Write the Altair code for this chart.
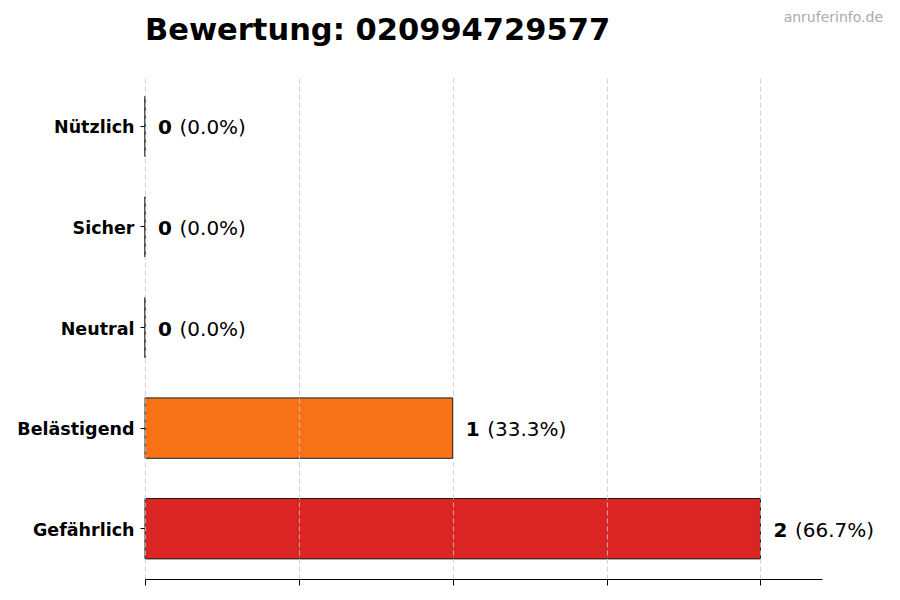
import altair as alt
import pandas as pd

categories = ["Nützlich", "Sicher", "Neutral", "Belästigend", "Gefährlich"]
counts = [0, 0, 0, 1, 2]
percents = ["(0.0%)", "(0.0%)", "(0.0%)", "(33.3%)", "(66.7%)"]
colors = ["#22c55e", "#3b82f6", "#6b7280", "#f97316", "#dc2626"]
x_ticks = [0, 0.5, 1, 1.5, 2]
x_domain = [0, 2.2]
title_text = "Bewertung: 020994729577"
watermark = "anruferinfo.de"

df = pd.DataFrame({"cat": categories, "count": counts, "pct": percents, "color": colors})

FONT = "DejaVu Sans"

y_enc = alt.Y(
    "cat:N",
    sort=categories,
    scale=alt.Scale(paddingInner=0.4, paddingOuter=0.2),
    axis=alt.Axis(
        title=None, domain=False, grid=False,
        labelFont=FONT, labelFontWeight="bold", labelFontSize=17.5,
        labelColor="black", tickColor="black", tickSize=5, labelPadding=6,
        labelOffset=2,
    ),
)
x_enc = alt.X(
    "count:Q",
    scale=alt.Scale(domain=x_domain, nice=False, zero=True),
    axis=alt.Axis(
        title=None, values=x_ticks, labels=False, grid=True,
        gridDash=[5, 3], gridColor="#c8c8c8", gridWidth=0.8,
        domainColor="black", domainWidth=1.2, tickColor="black", tickSize=6,
        zindex=1,
    ),
)

base = alt.Chart(df)

bars = base.mark_bar(stroke="#1a1a1a", strokeWidth=1).encode(
    x=x_enc, y=y_enc, color=alt.Color("color:N", scale=None)
)

num_text = base.mark_text(
    align="left", baseline="middle", dx=13, dy=2,
    font=FONT, fontWeight="bold", fontSize=20, color="black",
).encode(x="count:Q", y=alt.Y("cat:N", sort=categories), text="count:Q")

pct_text = base.mark_text(
    align="left", baseline="middle", dx=34.5, dy=2,
    font=FONT, fontSize=20, color="black",
).encode(x="count:Q", y=alt.Y("cat:N", sort=categories), text="pct:N")

wm = alt.Chart(pd.DataFrame({"t": [watermark]})).mark_text(
    align="right", baseline="middle", font=FONT, fontSize=14, color="#aaaaaa",
).encode(x=alt.value(738), y=alt.value(-58), text="t:N")

title = alt.Chart(pd.DataFrame({"t": [title_text]})).mark_text(
    align="left", baseline="alphabetic", font=FONT, fontSize=30.5,
    fontWeight="bold", color="black",
).encode(x=alt.value(0), y=alt.value(-36), text="t:N")

chart = (
    alt.layer(bars, num_text, pct_text, wm, title)
    .properties(
        width=677,
        height=503,
        autosize=alt.AutoSizeParams(type="none"),
        padding={"left": 137, "top": 68, "right": 70, "bottom": 13},
    )
    .configure_view(stroke=None)
)

chart.save("out.html", embed_options={"renderer": "svg", "actions": False})
